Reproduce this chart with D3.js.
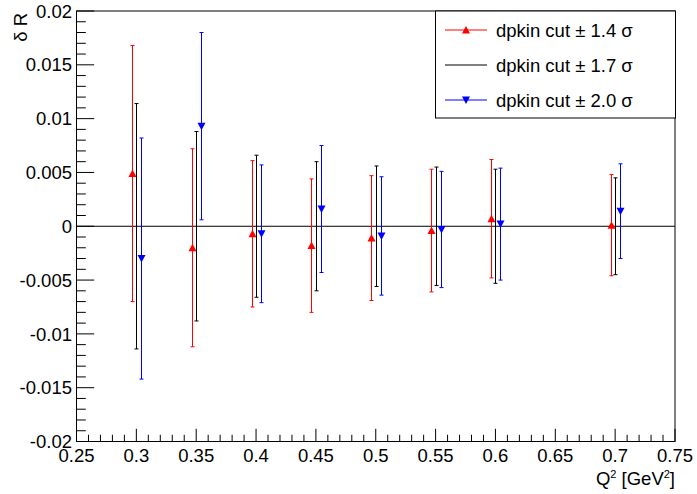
<!DOCTYPE html>
<html>
<head>
<meta charset="utf-8">
<script src="https://cdn.jsdelivr.net/npm/d3@7"></script>
<style>
  html, body { margin: 0; padding: 0; background: #fff; }
  svg { display: block; }
  text { font-family: "Liberation Sans", Arial, Helvetica, sans-serif; fill: #000; }
</style>
</head>
<body>
<svg id="chart" width="697" height="494"></svg>
<script>
// ---- data ----
const q2 = [0.3, 0.35, 0.4, 0.45, 0.5, 0.55, 0.6, 0.7];

const red14Values = [0.0049, -0.0020, -0.0007, -0.0018, -0.0011, -0.0004, 0.0007, 0.0001];
const red14Errors = [0.0119, 0.0092, 0.0068, 0.0062, 0.0058, 0.0057, 0.0055, 0.0047];

const black17Values = [0.0, 0.0, 0.0, 0.0, 0.0, 0.0, 0.0, 0.0];
const black17Errors = [0.0114, 0.0088, 0.0066, 0.0060, 0.0056, 0.0055, 0.0053, 0.0045];

const blue20Values = [-0.0030, 0.0093, -0.0007, 0.0016, -0.0009, -0.0003, 0.0002, 0.0014];
const blue20Errors = [0.0112, 0.0087, 0.0064, 0.0059, 0.0055, 0.0054, 0.0052, 0.0044];

const seriesNames = ["dpkin cut \u00B1 1.4 \u03C3", "dpkin cut \u00B1 1.7 \u03C3", "dpkin cut \u00B1 2.0 \u03C3"];

const xTickValues = [0.25, 0.3, 0.35, 0.4, 0.45, 0.5, 0.55, 0.6, 0.65, 0.7, 0.75];
const xTickLabels = ["0.25", "0.3", "0.35", "0.4", "0.45", "0.5", "0.55", "0.6", "0.65", "0.7", "0.75"];
const yTickValues = [-0.02, -0.015, -0.01, -0.005, 0, 0.005, 0.01, 0.015, 0.02];
const yTickLabels = ["-0.02", "-0.015", "-0.01", "-0.005", "0", "0.005", "0.01", "0.015", "0.02"];

// ---- layout ----
const L = 76.5, R = 675, T = 11, B = 441.5;
const svg = d3.select("#chart");
const x = d3.scaleLinear().domain([0.25, 0.75]).range([L, R]);
const y = d3.scaleLinear().domain([-0.02, 0.02]).range([B, T]);
const FS = 18.5;

// frame
svg.append("rect").attr("x", L).attr("y", T).attr("width", R - L).attr("height", B - T)
  .attr("fill", "none").attr("stroke", "#000").attr("stroke-width", 1);

// y minor ticks
const yMinor = d3.range(-20, 21).map(i => i / 1000);
svg.append("g").selectAll("line").data(yMinor).join("line")
  .attr("x1", L).attr("x2", d => (Math.round(d * 1000) % 5 === 0) ? L + 17.7 : L + 9.3)
  .attr("y1", d => y(d)).attr("y2", d => y(d))
  .attr("stroke", "#000").attr("stroke-width", 1);
// x minor ticks
const xMinor = d3.range(25, 76).map(i => i / 100);
svg.append("g").selectAll("line").data(xMinor).join("line")
  .attr("x1", d => x(d)).attr("x2", d => x(d))
  .attr("y1", B).attr("y2", d => (Math.round(d * 100) % 5 === 0) ? B - 12.7 : B - 6.7)
  .attr("stroke", "#000").attr("stroke-width", 1);

// tick labels
svg.append("g").selectAll("text").data(yTickValues).join("text")
  .attr("x", 72).attr("y", d => y(d)).attr("dy", "0.36em")
  .attr("text-anchor", "end").attr("font-size", FS)
  .text((d, i) => yTickLabels[i]);
svg.append("g").selectAll("text").data(xTickValues).join("text")
  .attr("x", d => x(d)).attr("y", 461.5)
  .attr("text-anchor", "middle").attr("font-size", FS)
  .text((d, i) => xTickLabels[i]);

// axis titles
svg.append("text").attr("transform", "translate(27,13) rotate(-90)")
  .attr("text-anchor", "end").attr("font-size", FS).text("\u03B4 R");
const xt = svg.append("text").attr("x", 675).attr("y", 485).attr("text-anchor", "end").attr("font-size", FS);
xt.append("tspan").text("Q");
xt.append("tspan").attr("font-size", 11).attr("dy", -7).text("2");
xt.append("tspan").attr("dy", 7).text(" [GeV");
xt.append("tspan").attr("font-size", 11).attr("dy", -7).text("2");
xt.append("tspan").attr("dy", 7).text("]");

// zero line
svg.append("line").attr("x1", L).attr("x2", R).attr("y1", y(0)).attr("y2", y(0))
  .attr("stroke", "#000").attr("stroke-width", 1);

// series
const series = [
  { vals: red14Values, errs: red14Errors, color: "#ff0000", off: -0.0037, marker: "up" },
  { vals: black17Values, errs: black17Errors, color: "#000000", off: 0, marker: null },
  { vals: blue20Values, errs: blue20Errors, color: "#0000ff", off: 0.0041, marker: "down" }
];
const triUp = "M-4,3.5L4,3.5L0,-4Z";
const triDown = "M-4,-3.5L4,-3.5L0,4Z";

series.forEach(s => {
  const g = svg.append("g");
  const pts = q2.map((q, i) => ({ xv: q + s.off, v: s.vals[i], e: s.errs[i] }));
  g.selectAll("line.bar").data(pts).join("line").attr("class", "bar")
    .attr("x1", d => Math.round(x(d.xv)) + 0.5).attr("x2", d => Math.round(x(d.xv)) + 0.5)
    .attr("y1", d => y(d.v + d.e)).attr("y2", d => y(d.v - d.e))
    .attr("stroke", s.color).attr("stroke-width", 1);
  ["top", "bot"].forEach(k => {
    g.selectAll("line." + k).data(pts).join("line").attr("class", k)
      .attr("x1", d => Math.round(x(d.xv)) + 0.5 - 2).attr("x2", d => Math.round(x(d.xv)) + 0.5 + 2)
      .attr("y1", d => y(k === "top" ? d.v + d.e : d.v - d.e))
      .attr("y2", d => y(k === "top" ? d.v + d.e : d.v - d.e))
      .attr("stroke", s.color).attr("stroke-width", 1);
  });
  if (s.marker) {
    g.selectAll("path").data(pts).join("path")
      .attr("d", s.marker === "up" ? triUp : triDown)
      .attr("transform", d => `translate(${Math.round(x(d.xv)) + 0.5},${y(d.v)})`)
      .attr("fill", s.color);
  }
});

// legend
const lg = svg.append("g");
lg.append("rect").attr("x", 435.5).attr("y", 11).attr("width", 240).attr("height", 107)
  .attr("fill", "#fff").attr("stroke", "#000").attr("stroke-width", 1);
const rowsY = [30, 65, 100];
series.forEach((s, i) => {
  lg.append("line").attr("x1", 445).attr("x2", 487).attr("y1", rowsY[i]).attr("y2", rowsY[i])
    .attr("stroke", s.color).attr("stroke-width", 1);
  if (s.marker) {
    lg.append("path").attr("d", s.marker === "up" ? triUp : triDown)
      .attr("transform", `translate(466,${rowsY[i]})`).attr("fill", s.color);
  }
  lg.append("text").attr("x", 496).attr("y", rowsY[i] + 6.5).attr("font-size", FS).text(seriesNames[i]);
});
</script>
</body>
</html>
